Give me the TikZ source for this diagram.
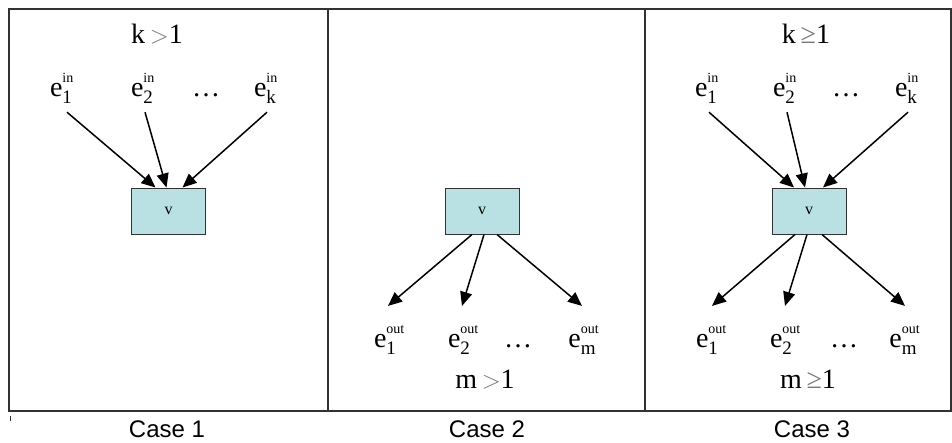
\documentclass[tikz,border=0pt]{standalone}
\usepackage{fontspec}
\setmainfont{Liberation Serif}
\newfontfamily\casefont{Liberation Sans}
\usetikzlibrary{arrows.meta, positioning, calc}
\definecolor{BoxFill}{RGB}{185,224,227}
\definecolor{FrameGray}{RGB}{50,50,50}
\definecolor{RelGray}{RGB}{120,120,120}

% e with a stacked sub- and superscript
\newcommand{\estack}[2]{e\rlap{\raisebox{14pt}{\fontsize{14}{14}\selectfont #2}}\raisebox{-7pt}{\fontsize{19}{19}\selectfont #1}}

\tikzset{
  vbox/.style={draw=FrameGray, fill=BoxFill, minimum width=74pt, minimum height=46pt,
               inner sep=0pt, font=\fontsize{16}{16}\selectfont, line width=1pt},
  elab/.style={anchor=base, inner sep=0pt, font=\fontsize{28}{28}\selectfont},
  cond/.style={anchor=base, inner sep=0pt, font=\fontsize{28}{28}\selectfont},
  casename/.style={anchor=base, inner sep=0pt, font=\casefont\fontsize{24}{24}\selectfont},
  arr/.style={-{Triangle[length=14pt,width=12pt]}, line width=1.5pt},
}

\begin{document}
\begin{tikzpicture}[x=1pt, y=-1pt]
\useasboundingbox (0,0) rectangle (952,442);

% frame and panels
\draw[FrameGray, line width=1.2pt] (9,9) rectangle (951,411);
\draw[FrameGray, line width=1.2pt] (328,9) -- (328,411);
\draw[FrameGray, line width=1.2pt] (645,9) -- (645,411);
\draw[FrameGray, line width=0.8pt] (10,416) -- (10,421);

% Case 1
\node[cond] (c1k) at (157,43) {k\,{\color{RelGray}$>$}1};
\node[elab] (c1i1) at (61,96) {\estack{1}{in}};
\node[elab] (c1i2) at (142,96) {\estack{2}{in}};
\node[elab] (c1id) at (206,96) {\dots};
\node[elab] (c1ik) at (265,96) {\estack{k}{in}};
\node[vbox] (v1) at (168.5,211) {v};
\draw[arr] ([xshift=6pt,yshift=-9pt]c1i1.south) -- ([xshift=-13pt]v1.north);
\draw[arr] ([xshift=3pt,yshift=-9pt]c1i2.south) -- ([xshift=-2pt]v1.north);
\draw[arr] ([xshift=2pt,yshift=-9pt]c1ik.south) -- ([xshift=14pt]v1.north);

% Case 2
\node[vbox] (v2) at (482,211) {v};
\node[elab] (c2o1) at (385,347) {\estack{1}{out}};
\node[elab] (c2o2) at (459,347) {\estack{2}{out}};
\node[elab] (c2od) at (518,347) {\dots};
\node[elab] (c2om) at (582,347) {\estack{m}{out}};
\node[cond] (c2m) at (485,388) {m\,{\color{RelGray}$>$}1};
\draw[arr] ([xshift=-10pt]v2.south) -- ([xshift=3pt,yshift=19pt]c2o1.north);
\draw[arr] ([xshift=2pt]v2.south) -- ([xshift=3pt,yshift=19pt]c2o2.north);
\draw[arr] ([xshift=15pt]v2.south) -- ([xshift=0pt,yshift=19pt]c2om.north);

% Case 3
\node[cond] (c3k) at (806,43) {k\,{\color{RelGray}≥}1};
\node[elab] (c3i1) at (706,96) {\estack{1}{in}};
\node[elab] (c3i2) at (784,96) {\estack{2}{in}};
\node[elab] (c3id) at (846,96) {\dots};
\node[elab] (c3ik) at (906,96) {\estack{k}{in}};
\node[vbox] (v3) at (809,211) {v};
\draw[arr] ([xshift=3pt,yshift=-9pt]c3i1.south) -- ([xshift=-15pt]v3.north);
\draw[arr] ([xshift=3pt,yshift=-9pt]c3i2.south) -- ([xshift=-4pt]v3.north);
\draw[arr] ([xshift=2pt,yshift=-9pt]c3ik.south) -- ([xshift=14pt]v3.north);
\node[elab] (c3o1) at (707,347) {\estack{1}{out}};
\node[elab] (c3o2) at (781,347) {\estack{2}{out}};
\node[elab] (c3od) at (844,347) {\dots};
\node[elab] (c3om) at (903,347) {\estack{m}{out}};
\node[cond] (c3m) at (808,388) {m\,{\color{RelGray}≥}1};
\draw[arr] ([xshift=-14pt]v3.south) -- ([xshift=5pt,yshift=19pt]c3o1.north);
\draw[arr] ([xshift=-2pt]v3.south) -- ([xshift=4pt,yshift=19pt]c3o2.north);
\draw[arr] ([xshift=13pt]v3.south) -- ([xshift=2pt,yshift=19pt]c3om.north);

% case names
\node[casename] (n1) at (167,437) {Case 1};
\node[casename] (n2) at (487,437) {Case 2};
\node[casename] (n3) at (812,437) {Case 3};
\end{tikzpicture}
\end{document}
